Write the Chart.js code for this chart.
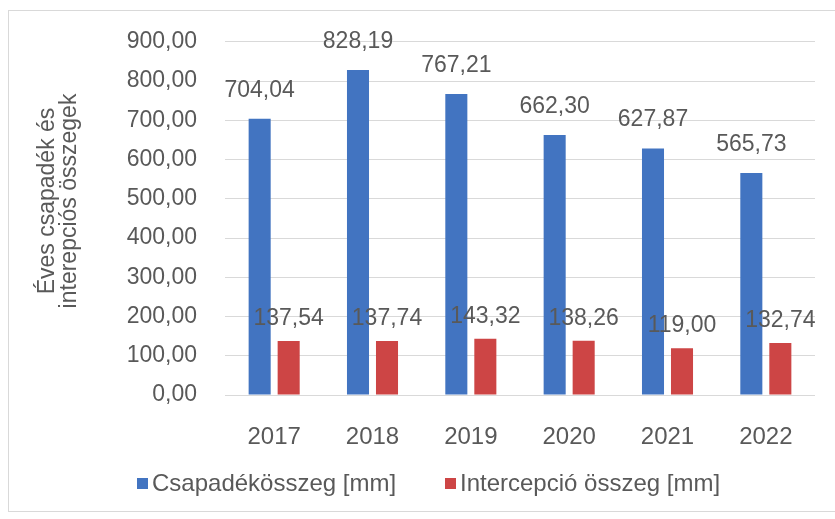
<!DOCTYPE html>
<html>
<head>
<meta charset="utf-8">
<script src="https://cdn.jsdelivr.net/npm/chart.js@4.4.0/dist/chart.umd.min.js"></script>
<style>
  body { margin: 0; background: #fff; }
  #wrap { width: 835px; height: 519px; }
</style>
</head>
<body>
<div id="wrap"><canvas id="myChart" width="835" height="519"></canvas></div>
<script>
const years = ['2017', '2018', '2019', '2020', '2021', '2022'];
const csapadek = [704.04, 828.19, 767.21, 662.30, 627.87, 565.73];
const intercepcio = [137.54, 137.74, 143.32, 138.26, 119.00, 132.74];
const seriesNames = ['Csapadékösszeg [mm]', 'Intercepció összeg [mm]'];
const yTitle = ['Éves csapadék és', 'interepciós összegek'];

const textColor = '#595959';
const fontFamily = '"Liberation Sans", Arial, sans-serif';
const blue = '#4274c1';
const red = '#cd4545';

function fmt(v) {
    return v.toFixed(2).replace('.', ',');
}

// frame, y title and legend
const extras = {
    id: 'extras',
    beforeDraw(chart) {
        const ctx = chart.ctx;
        ctx.save();
        ctx.strokeStyle = '#d9d9d9';
        ctx.lineWidth = 1;
        ctx.strokeRect(8.5, 10.5, 900, 501);
        ctx.restore();
    },
    afterDraw(chart) {
        const ctx = chart.ctx;
        ctx.save();
        ctx.fillStyle = textColor;
        ctx.font = '23px ' + fontFamily;
        ctx.textAlign = 'center';
        ctx.textBaseline = 'middle';
        ctx.translate(59, 201);
        ctx.rotate(-Math.PI / 2);
        ctx.fillText(yTitle[0], 0, -11);
        ctx.fillText(yTitle[1], 0, 11);
        ctx.restore();

        // legend
        const items = [
            { x: 137, color: blue, text: seriesNames[0] },
            { x: 445, color: red, text: seriesNames[1] }
        ];
        ctx.save();
        ctx.font = '24px ' + fontFamily;
        ctx.textBaseline = 'middle';
        ctx.textAlign = 'left';
        items.forEach(it => {
            ctx.fillStyle = it.color;
            ctx.fillRect(it.x, 478, 11, 11);
            ctx.fillStyle = textColor;
            ctx.fillText(it.text, it.x + 15, 484);
        });
        ctx.restore();
    }
};

// value labels, on top of the bars
const valueLabels = {
    id: 'valueLabels',
    afterDatasetsDraw(chart) {
        const ctx = chart.ctx;
        ctx.save();
        ctx.font = '23px ' + fontFamily;
        ctx.fillStyle = textColor;
        ctx.textAlign = 'center';
        ctx.textBaseline = 'bottom';
        chart.data.datasets.forEach((ds, i) => {
            const meta = chart.getDatasetMeta(i);
            const off = i === 0 ? 17 : 11;
            meta.data.forEach((bar, j) => {
                ctx.fillText(fmt(ds.data[j]), bar.x, bar.y - off);
            });
        });
        ctx.restore();
    }
};

const ctx = document.getElementById('myChart').getContext('2d');

const myChart = new Chart(ctx, {
    type: 'bar',
    data: {
        labels: years,
        datasets: [{
            label: seriesNames[0],
            data: csapadek,
            backgroundColor: blue,
            categoryPercentage: 0.59,
            barPercentage: 0.76
        }, {
            label: seriesNames[1],
            data: intercepcio,
            backgroundColor: red,
            categoryPercentage: 0.59,
            barPercentage: 0.76
        }]
    },
    options: {
        responsive: false,
        animation: false,
        layout: { padding: { left: 0, top: 36, right: 20, bottom: 0 } },
        plugins: {
            legend: { display: false },
            tooltip: { enabled: false }
        },
        scales: {
            x: {
                grid: { display: false, drawTicks: false },
                border: { display: false },
                ticks: {
                    color: textColor,
                    font: { family: fontFamily, size: 24 },
                    padding: 28,
                    maxRotation: 0
                },
                afterFit(scale) { scale.height = 124; }
            },
            y: {
                min: 0,
                max: 900,
                grid: { color: '#d9d9d9', drawTicks: false },
                border: { display: false },
                ticks: {
                    stepSize: 100,
                    color: textColor,
                    font: { family: fontFamily, size: 23 },
                    padding: 28,
                    callback: v => fmt(v)
                },
                afterFit(scale) { scale.width = 225; }
            }
        }
    },
    plugins: [extras, valueLabels]
});
</script>
</body>
</html>
